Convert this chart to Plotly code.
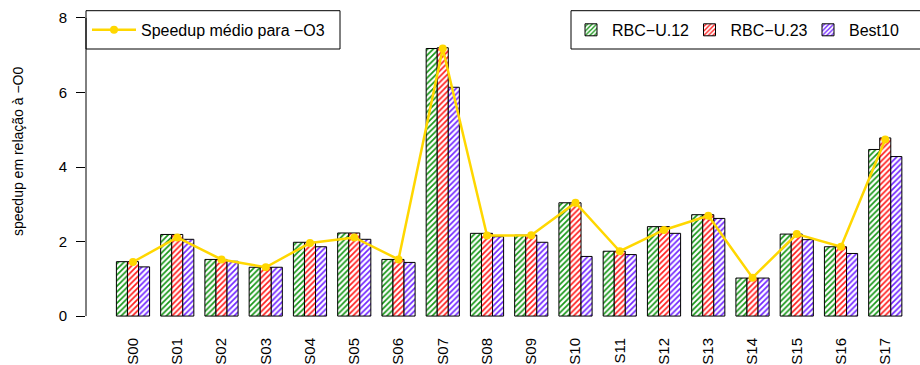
import plotly.graph_objects as go

categories = ["S00", "S01", "S02", "S03", "S04", "S05", "S06", "S07", "S08",
              "S09", "S10", "S11", "S12", "S13", "S14", "S15", "S16", "S17"]
rbc_u12 = [1.46, 2.19, 1.52, 1.31, 1.98, 2.23, 1.52, 7.18, 2.22,
           2.17, 3.04, 1.74, 2.40, 2.72, 1.02, 2.20, 1.86, 4.47]
rbc_u23 = [1.46, 2.19, 1.52, 1.31, 1.98, 2.23, 1.52, 7.20, 2.22,
           2.17, 3.04, 1.74, 2.40, 2.72, 1.02, 2.20, 1.86, 4.78]
best10 = [1.32, 2.06, 1.47, 1.31, 1.86, 2.06, 1.44, 6.14, 2.13,
          1.98, 1.60, 1.65, 2.22, 2.62, 1.02, 2.05, 1.68, 4.28]
mean_o3 = [1.45, 2.11, 1.52, 1.31, 1.96, 2.11, 1.52, 7.18, 2.16,
           2.17, 3.04, 1.74, 2.31, 2.69, 1.03, 2.20, 1.86, 4.74]
y_ticks = [0, 2, 4, 6, 8]

series_names = ["RBC\u2212U.12", "RBC\u2212U.23", "Best10"]
series_colors = ["#159615", "#ff1a1a", "#7024ff"]
series_values = [rbc_u12, rbc_u23, best10]
line_name = "Speedup médio para \u2212O3"
y_title = "speedup em relação à \u2212O0"

FONT = "Liberation Sans, Arial, Helvetica, sans-serif"

W, H = 920, 365
L, R, T, B = 86, 0, 6, 37
PW, PH = W - L - R, H - T - B


def px_x(p):
    return (p - L) / PW


def px_y(p):
    return (H - B - p) / PH


fig = go.Figure()
for i, (name, col, vals) in enumerate(zip(series_names, series_colors, series_values)):
    fig.add_trace(go.Bar(
        x=categories, y=vals, name=name, legend="legend2", showlegend=True,
        legendwidth=(71.5 if i < 2 else 50),
        marker=dict(color="white", line=dict(color="black", width=1),
                    pattern=dict(shape="/", fgcolor=col, bgcolor="white",
                                 fgopacity=1, fillmode="replace",
                                 size=4, solidity=0.42)),
    ))

fig.add_trace(go.Scatter(
    x=categories, y=mean_o3, name=line_name, mode="lines+markers",
    line=dict(color="#FFD700", width=2.5),
    marker=dict(color="#FFD700", size=8),
    legend="legend", showlegend=True,
))

shapes = [
    dict(type="line", xref="paper", yref="y", x0=0, x1=0, y0=0, y1=8,
         line=dict(color="black", width=1)),
    dict(type="rect", xref="paper", yref="paper",
         x0=px_x(86), x1=px_x(340), y0=px_y(49), y1=px_y(10.7),
         line=dict(color="black", width=1)),
    dict(type="rect", xref="paper", yref="paper",
         x0=px_x(571), x1=px_x(940), y0=px_y(49), y1=px_y(10.7),
         line=dict(color="black", width=1)),
]

fig.update_layout(
    width=W, height=H,
    margin=dict(l=L, r=R, t=T, b=B, pad=0),
    paper_bgcolor="white", plot_bgcolor="white",
    font=dict(family=FONT, size=15, color="black"),
    barmode="group", bargap=0.25, bargroupgap=0,
    showlegend=True,
    shapes=shapes,
    legend=dict(x=px_x(87), xanchor="left", y=px_y(29.9), yanchor="middle",
                bgcolor="rgba(0,0,0,0)", borderwidth=0,
                font=dict(size=16), itemwidth=44),
    legend2=dict(x=px_x(570), xanchor="left", y=px_y(29.9), yanchor="middle",
                 orientation="h", bgcolor="rgba(0,0,0,0)", borderwidth=0,
                 font=dict(size=16), entrywidthmode="pixels",
                 itemwidth=32, traceorder="normal"),
    annotations=[dict(text=y_title, xref="paper", yref="paper",
                      x=px_x(18), y=px_y(152), xanchor="center", yanchor="middle",
                      textangle=-90, showarrow=False, font=dict(size=14))],
    xaxis=dict(type="category", range=[-1.062, 17.785], showline=False,
               showgrid=False, zeroline=False, ticks="", tickangle=-90,
               ticklabelstandoff=6, tickfont=dict(size=15)),
    yaxis=dict(range=[-0.32, 8.32], tickvals=y_ticks, ticks="outside",
               ticklen=9, tickcolor="black", tickwidth=1, showline=False,
               showgrid=False, zeroline=False, ticklabelstandoff=6,
               tickfont=dict(size=15)),
)

fig.write_html("out.html", config={"displayModeBar": False},
               post_script="document.body.style.margin='0';")
